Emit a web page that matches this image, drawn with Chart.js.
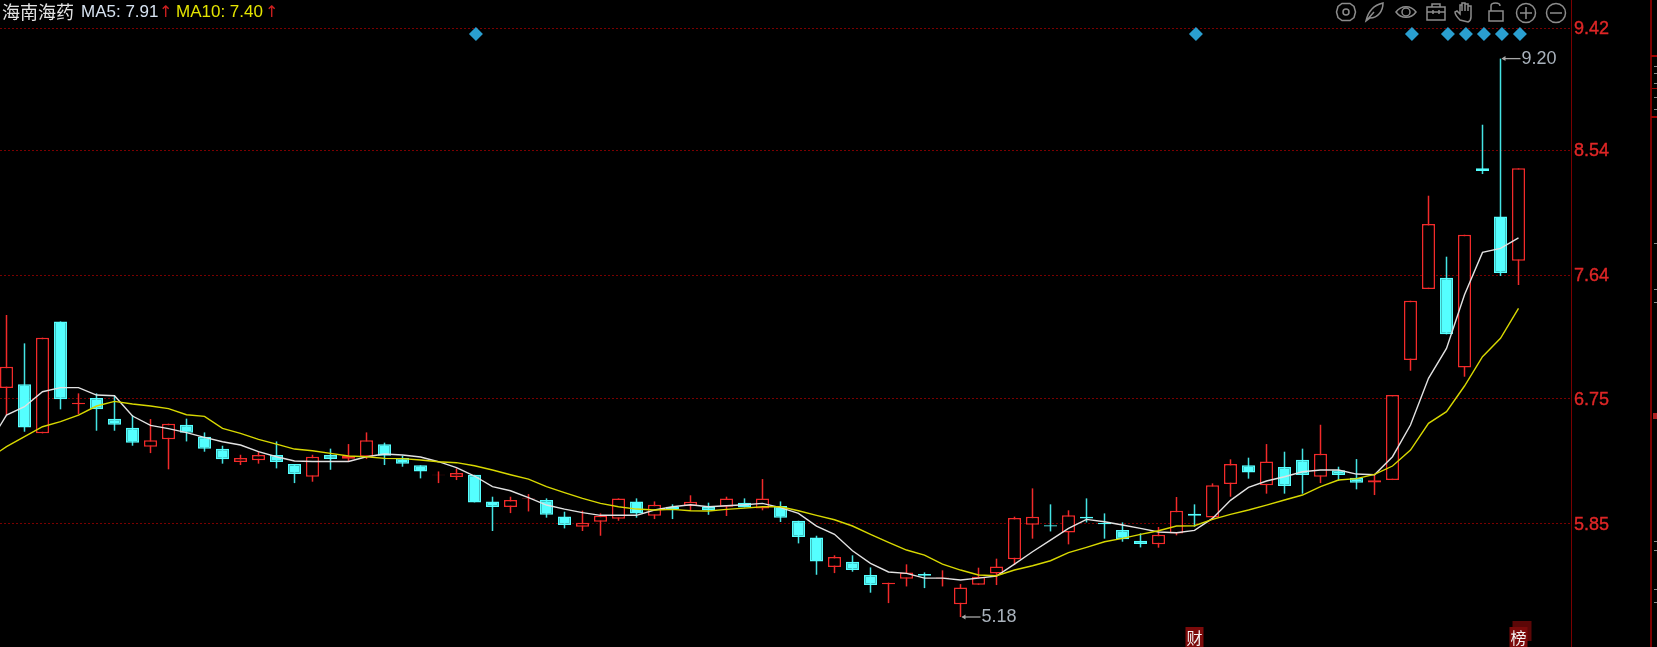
<!DOCTYPE html>
<html>
<head>
<meta charset="utf-8">
<title>海南海药</title>
<script src="https://cdn.jsdelivr.net/npm/chart.js@4"></script>
<style>
  html, body { margin: 0; padding: 0; background: #000; overflow: hidden; }
  #wrap { position: relative; width: 1657px; height: 647px; }
  canvas { display: block; }
  #tools { position: absolute; left: 0; top: 0; }
  #tools * { fill: none; stroke: #8c8c8c; stroke-width: 1.5; }
</style>
</head>
<body>
<div id="wrap">
  <canvas id="klineChart" width="1657" height="647"></canvas>
  <svg id="tools" width="1657" height="30">
    <!-- gear -->
    <path d="M1342 3.5h8l4 3 1.5 5.5-1.5 5.5-4 3h-8l-4-3-1.5-5.5 1.5-5.5z"/>
    <circle cx="1346" cy="12" r="3"/>
    <!-- feather -->
    <path d="M1366 21c2-9 8-16 17-18 0 8-5 15-13 15zM1366 21l8-9"/>
    <!-- eye -->
    <path d="M1396 12c5-7 15-7 20 0-5 7-15 7-20 0z"/>
    <circle cx="1406" cy="12" r="4"/>
    <!-- toolbox -->
    <path d="M1427 7h18v13h-18zM1427 12h18M1432 7v-3h8v3M1433 10v4M1439 10v4"/>
    <!-- hand -->
    <path d="M1460 20c-2-2-5-5-5-8l2-1 3 3v-9h2v6-8h3v8-7h3v7-5h3v11c0 2-1 4-3 5z"/>
    <!-- lock -->
    <path d="M1489 11h14v10h-14zM1491 11v-5c0-4 9-4 9 0"/>
    <!-- zoom in -->
    <circle cx="1526" cy="13" r="9.5"/>
    <path d="M1520 13h12M1526 7v12"/>
    <!-- zoom out -->
    <circle cx="1556" cy="13" r="9.5"/>
    <path d="M1550 13h12"/>
  </svg>
</div>
<script>
// Candles, oldest first
const open = [6.828, 6.855, 6.502, 7.308, 6.711, 6.756, 6.608, 6.543, 6.406, 6.459,
  6.564, 6.478, 6.392, 6.296, 6.308, 6.346, 6.281, 6.19, 6.346, 6.32,
  6.334, 6.423, 6.324, 6.272, 6.2, 6.188, 6.204, 6.012, 5.972, 6.029,
  6.022, 5.904, 5.83, 5.866, 5.888, 6.012, 5.909, 5.974, 5.979, 5.974,
  5.974, 6.003, 5.962, 5.979, 5.873, 5.753, 5.54, 5.578, 5.482, 5.415,
  5.456, 5.489, 5.458, 5.271, 5.412, 5.494, 5.595, 5.844, 5.84, 5.789,
  5.902, 5.856, 5.806, 5.729, 5.703, 5.782, 5.924, 5.897, 6.137, 6.272,
  6.128, 6.26, 6.312, 6.19, 6.236, 6.183, 6.149, 6.166, 7.03, 7.541,
  7.623, 6.977, 8.41, 8.064, 7.745];
const high = [7.354, 7.15, 7.191, 7.308, 6.79, 6.79, 6.773, 6.634, 6.605, 6.572,
  6.608, 6.509, 6.413, 6.348, 6.37, 6.444, 6.281, 6.348, 6.392, 6.425,
  6.509, 6.435, 6.341, 6.272, 6.228, 6.25, 6.204, 6.046, 6.046, 6.065,
  6.034, 5.938, 5.945, 5.926, 6.034, 6.034, 6.012, 5.991, 6.056, 6.003,
  6.046, 6.034, 6.173, 6.012, 5.873, 5.765, 5.624, 5.624, 5.537, 5.427,
  5.559, 5.501, 5.516, 5.417, 5.535, 5.6, 5.902, 6.106, 5.991, 5.948,
  6.034, 5.926, 5.861, 5.782, 5.828, 6.044, 5.991, 6.142, 6.315, 6.327,
  6.425, 6.37, 6.392, 6.564, 6.262, 6.317, 6.202, 6.778, 7.457, 8.213,
  7.774, 7.932, 8.724, 9.20, 8.41];
const low = [6.634, 6.514, 6.502, 6.675, 6.639, 6.521, 6.521, 6.413, 6.36, 6.243,
  6.444, 6.37, 6.284, 6.274, 6.284, 6.25, 6.144, 6.154, 6.24, 6.298,
  6.317, 6.274, 6.262, 6.178, 6.144, 6.166, 6.005, 5.799, 5.928, 5.94,
  5.895, 5.818, 5.799, 5.765, 5.873, 5.895, 5.885, 5.885, 5.945, 5.916,
  5.907, 5.969, 5.948, 5.864, 5.71, 5.484, 5.496, 5.506, 5.355, 5.28,
  5.4, 5.388, 5.4, 5.18, 5.412, 5.41, 5.554, 5.744, 5.796, 5.703,
  5.861, 5.744, 5.722, 5.681, 5.679, 5.768, 5.83, 5.878, 6.046, 6.176,
  6.068, 6.068, 6.068, 6.144, 6.161, 6.099, 6.058, 6.166, 6.953, 7.541,
  7.215, 6.91, 8.369, 7.635, 7.57];
const close = [6.982, 6.545, 7.191, 6.747, 6.723, 6.675, 6.564, 6.435, 6.452, 6.572,
  6.507, 6.392, 6.315, 6.324, 6.346, 6.296, 6.209, 6.334, 6.317, 6.339,
  6.452, 6.341, 6.284, 6.228, 6.204, 6.216, 6.005, 5.972, 6.022, 6.034,
  5.916, 5.842, 5.859, 5.909, 6.034, 5.926, 5.988, 5.957, 6.01, 5.948,
  6.034, 5.969, 6.034, 5.895, 5.756, 5.58, 5.612, 5.518, 5.41, 5.427,
  5.501, 5.477, 5.465, 5.393, 5.47, 5.544, 5.892, 5.902, 5.832, 5.912,
  5.89, 5.847, 5.739, 5.705, 5.772, 5.945, 5.909, 6.128, 6.281, 6.221,
  6.3, 6.123, 6.202, 6.356, 6.202, 6.147, 6.164, 6.778, 7.457, 8.009,
  7.215, 7.932, 8.391, 7.656, 8.41];

// Moving averages; the first value belongs to the day before the first candle
const ma5 = [6.42, 6.634, 6.694, 6.802, 6.831, 6.831, 6.778, 6.773, 6.627, 6.56, 6.536,
  6.507, 6.473, 6.442, 6.418, 6.37, 6.334, 6.303, 6.3, 6.3, 6.3,
  6.334, 6.353, 6.346, 6.332, 6.298, 6.255, 6.195, 6.118, 6.089, 6.039,
  5.986, 5.957, 5.931, 5.912, 5.912, 5.912, 5.95, 5.974, 5.988, 5.974,
  5.981, 5.988, 5.998, 5.967, 5.926, 5.835, 5.775, 5.657, 5.566, 5.504,
  5.494, 5.46, 5.46, 5.446, 5.46, 5.475, 5.561, 5.65, 5.734, 5.818,
  5.883, 5.866, 5.842, 5.818, 5.792, 5.787, 5.804, 5.89, 6.02, 6.113,
  6.159, 6.19, 6.226, 6.238, 6.238, 6.209, 6.204, 6.334, 6.562, 6.898,
  7.114, 7.5, 7.805, 7.834, 7.91];
const ma10 = [6.32, 6.406, 6.478, 6.55, 6.586, 6.634, 6.699, 6.732, 6.713, 6.699, 6.68,
  6.636, 6.624, 6.538, 6.502, 6.459, 6.425, 6.389, 6.377, 6.358, 6.339,
  6.334, 6.322, 6.32, 6.31, 6.298, 6.291, 6.269, 6.238, 6.204, 6.173,
  6.118, 6.075, 6.034, 5.998, 5.974, 5.957, 5.95, 5.955, 5.945, 5.943,
  5.955, 5.964, 5.974, 5.974, 5.945, 5.912, 5.88, 5.835, 5.775, 5.717,
  5.662, 5.626, 5.561, 5.518, 5.482, 5.477, 5.518, 5.549, 5.585, 5.643,
  5.681, 5.722, 5.746, 5.775, 5.801, 5.835, 5.837, 5.883, 5.919, 5.95,
  5.985, 6.022, 6.058, 6.118, 6.166, 6.176, 6.207, 6.267, 6.382, 6.574,
  6.658, 6.843, 7.054, 7.186, 7.402];

const tickValues = [9.42, 8.54, 7.64, 6.75, 5.85];
const signalDays = [26, 66, 78, 80, 81, 82, 83, 84];
const signalLevel = 9.377;
const tagDays = [66, 84];
const tagTexts = ["财", "榜"];

const RED = "#f22a2a";
const CYAN = "#54ffff";
const isUp = (i) => close[i] >= open[i];

const candle = (arrA, arrB) => open.map((_, i) => ({ x: i, y: [arrA[i], arrB[i]] }));
const maLine = (arr) => arr.map((v, i) => ({ x: i - 1, y: v }));

// Everything that is not a mark: header, price callouts, tags and the right rail
const extras = {
  id: "extras",
  afterDraw(chart) {
    const { ctx, scales } = chart;
    const xs = scales.x;
    const ys = scales.y;
    ctx.save();
    ctx.textBaseline = "middle";
    ctx.textAlign = "left";

    // header
    ctx.font = '18px "Noto Sans CJK SC"';
    ctx.fillStyle = "#e4e4e4";
    ctx.fillText("海南海药", 2, 12);
    ctx.font = '17px "Liberation Sans"';
    ctx.fillStyle = "#d6e2f0";
    ctx.fillText("MA5: 7.91", 81, 12);
    ctx.fillStyle = "#e4e400";
    ctx.fillText("MA10: 7.40", 176, 12);
    ctx.font = '16px "DejaVu Sans"';
    ctx.fillStyle = "#d02020";
    ctx.fillText("↑", 159, 13);
    ctx.fillText("↑", 265, 13);

    // lowest / highest price callouts
    const loIdx = low.indexOf(Math.min(...low));
    const hiIdx = high.indexOf(Math.max(...high));
    [[loIdx, low[loIdx]], [hiIdx, high[hiIdx]]].forEach(([i, v]) => {
      const px = xs.getPixelForValue(i);
      const py = ys.getPixelForValue(v);
      ctx.strokeStyle = "#a8a8a8";
      ctx.fillStyle = "#a8a8a8";
      ctx.lineWidth = 1.3;
      ctx.beginPath();
      ctx.moveTo(px + 2, py);
      ctx.lineTo(px + 20, py);
      ctx.stroke();
      ctx.beginPath();
      ctx.moveTo(px + 1, py);
      ctx.lineTo(px + 5, py - 2.5);
      ctx.lineTo(px + 5, py + 2.5);
      ctx.fill();
      ctx.font = '18px "Liberation Sans"';
      ctx.fillStyle = "#a9b2bc";
      ctx.fillText(v.toFixed(2), px + 21, py);
    });

    // tags along the bottom
    ctx.fillStyle = "#5c0707";
    ctx.fillRect(xs.getPixelForValue(84) - 6, 621, 19, 20);
    tagDays.forEach((d, k) => {
      const px = xs.getPixelForValue(d);
      ctx.fillStyle = "#7c0a0a";
      ctx.fillRect(px - 9, 627, 18, 20);
      ctx.fillStyle = "#f4f4f4";
      ctx.textAlign = "center";
      ctx.font = '16px "Noto Sans CJK SC"';
      ctx.fillText(tagTexts[k], px, 638);
      ctx.textAlign = "left";
    });

    // right rail
    ctx.fillStyle = "#7a0000";
    ctx.fillRect(1650, 0, 2, 647);
    ctx.fillStyle = "#a00000";
    ctx.fillRect(1651, 55, 6, 2);
    ctx.fillRect(1651, 116, 6, 2);
    ctx.fillRect(1652, 88, 5, 1);
    ctx.fillStyle = "#b02020";
    ctx.fillRect(1653, 413, 4, 6);
    ctx.fillStyle = "#8a8a8a";
    [66, 73, 83, 97, 109, 243, 289, 302, 541, 550, 589, 602].forEach((y) => {
      ctx.fillRect(1654, y, 3, 1);
    });
    ctx.restore();
  },
};

new Chart(document.getElementById("klineChart"), {
  type: "bar",
  data: {
    datasets: [
      {
        label: "MA5",
        type: "line",
        order: 1,
        data: maLine(ma5),
        borderColor: "#e2e2e2",
        borderWidth: 1.4,
        pointRadius: 0,
        tension: 0,
      },
      {
        label: "MA10",
        type: "line",
        order: 0,
        data: maLine(ma10),
        borderColor: "#d8d800",
        borderWidth: 1.4,
        pointRadius: 0,
        tension: 0,
      },
      {
        label: "signals",
        type: "line",
        order: 0,
        showLine: false,
        // the markers sit a pixel or so right of their candle
        data: signalDays.map((d) => ({ x: d + 0.08, y: signalLevel })),
        pointStyle: "rectRot",
        pointRadius: 7,
        pointBackgroundColor: "#2a9fd0",
        pointBorderWidth: 0,
      },
      {
        label: "body",
        order: 2,
        grouped: false,
        barThickness: 13,
        inflateAmount: 0,
        borderSkipped: false,
        data: candle(open, close),
        backgroundColor: (c) => (isUp(c.dataIndex) ? "#000" : CYAN),
        borderColor: (c) => (isUp(c.dataIndex) ? RED : CYAN),
        borderWidth: 1.5,
      },
      {
        label: "wick",
        order: 3,
        grouped: false,
        barThickness: 1.5,
        inflateAmount: 0,
        borderSkipped: false,
        data: candle(low, high),
        backgroundColor: (c) => (isUp(c.dataIndex) ? RED : "#44e4e4"),
        borderWidth: 0,
      },
    ],
  },
  options: {
    responsive: false,
    animation: false,
    layout: { padding: 0, autoPadding: false },
    plugins: { legend: { display: false }, tooltip: { enabled: false } },
    scales: {
      x: {
        type: "linear",
        display: false,
        offset: false,
        min: -6.5 / 18,
        max: (1571 - 6.5) / 18,
      },
      y: {
        position: "right",
        min: 4.964,
        max: 9.622,
        afterBuildTicks(scale) {
          scale.ticks = tickValues.map((v) => ({ value: v }));
        },
        afterFit(scale) {
          scale.width = 86;
          scale.paddingTop = 0;
          scale.paddingBottom = 0;
        },
        grid: { color: "#7a0000", drawTicks: false, tickLength: 0 },
        border: { color: "#7a0000", dash: [2, 2] },
        ticks: {
          color: "#de2626",
          textStrokeColor: "#de2626",
          textStrokeWidth: 0.4,
          padding: 3,
          labelOffset: 1,
          autoSkip: false,
          font: { family: "Liberation Sans", size: 18 },
          callback: (v) => v.toFixed(2),
        },
      },
    },
  },
  plugins: [extras],
});
</script>
</body>
</html>
